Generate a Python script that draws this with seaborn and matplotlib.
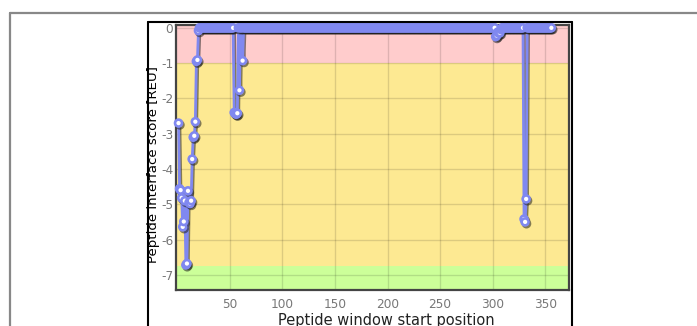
import numpy as np
import pandas as pd
import matplotlib
matplotlib.use("Agg")
import matplotlib.pyplot as plt
import matplotlib.patheffects as pe
from matplotlib.lines import Line2D
import seaborn as sns

# Peptide windows scanned along the sequence (start positions)
first_window = 1
last_window = 356

# Windows whose interface score differs from 0 REU
dip_positions = [1, 2, 3, 4, 5, 6, 7, 8, 9, 10, 11, 12, 13, 14, 15, 16, 17, 18, 19, 20,
                 54, 55, 56, 57, 59, 62,
                 303, 304, 305, 306, 307, 308,
                 330, 331, 332]
dip_scores = [-2.70, -4.56, -4.60, -4.82, -5.64, -5.49, -4.90, -6.72, -6.68, -4.62,
              -4.95, -4.98, -4.90, -3.72, -3.10, -3.06, -2.66, -0.95, -0.91, -0.08,
              -2.40, -2.43, -2.45, -2.42, -1.77, -0.93,
              -0.25, -0.22, -0.12, -0.15, -0.14, -0.05,
              -5.42, -5.50, -4.85]

# Score ranges shaded behind the curve
band_top = [0.2, -1.0, -6.75]
band_bottom = [-1.0, -6.75, -8.0]
band_colors = ["#ffcccc", "#fde992", "#ccff99"]

x_ticks = [50, 100, 150, 200, 250, 300, 350]
y_ticks = [0, -1, -2, -3, -4, -5, -6, -7]
y_tick_labels = ["0", "-1", "-2", "-3", "-4", "-5", "-6", "-7"]

line_color = "#8088f0"

scores = pd.Series(0.0, index=np.arange(first_window, last_window + 1))
scores.loc[dip_positions] = dip_scores
df = pd.DataFrame({"start": scores.index, "score": scores.values})

sns.set_style("white")
plt.rcParams["font.family"] = ["DejaVu Sans"]
plt.rcParams["axes.unicode_minus"] = False

W, H = 697, 326
fig = plt.figure(figsize=(W / 100, H / 100), dpi=100)
ax = fig.add_axes([176 / W, 1 - 290 / H, 393 / W, 265 / H])

for top, bottom, color in zip(band_top, band_bottom, band_colors):
    ax.axhspan(bottom, top, color=color, lw=0, zorder=0)

sns.lineplot(
    data=df, x="start", y="score", ax=ax,
    color=line_color, lw=2.0,
    marker="o", ms=5, mfc="white", mec=line_color, mew=1.9,
    clip_on=False, zorder=3,
    path_effects=[pe.SimpleLineShadow(offset=(1.0, -1.3), shadow_color="#202020", alpha=0.55),
                  pe.Normal()],
)

ax.set_xlim(-1.4, 372.8)
ax.set_ylim(-7.43, 0.08)
ax.set_xticks(x_ticks)
ax.set_xticklabels([str(t) for t in x_ticks])
ax.set_yticks(y_ticks)
ax.set_yticklabels(y_tick_labels)
ax.tick_params(length=0, labelsize=8.7, labelcolor="#777777")
ax.tick_params(axis="x", pad=6)
ax.tick_params(axis="y", pad=2)
ax.set_xlabel("")
ax.set_ylabel("")

ax.set_axisbelow(True)
ax.grid(True, color="black", alpha=0.13, lw=1)

for side in ["left", "bottom", "top", "right"]:
    ax.spines[side].set_visible(True)
    ax.spines[side].set_color("#444444")
    ax.spines[side].set_linewidth(1.6)

fig.text(154 / W, 1 - 165 / H, "Peptide interface score [REU]", rotation=90,
         ha="center", va="center", fontsize=9.6, color="black")
fig.text(386 / W, 1 - 320 / H, "Peptide window start position",
         ha="center", va="center", fontsize=10.5, color="#222222")

# panel frame around the chart
px0, px1, py0 = 147.5 / W, 571.5 / W, 1 - 22 / H
for xs, ys in [([px0, px0], [0, py0]), ([px0, px1], [py0, py0]), ([px1, px1], [0, py0])]:
    fig.add_artist(Line2D(xs, ys, transform=fig.transFigure, color="black", lw=1.5))

# outer page frame
ox, oy = 9.5 / W, 1 - 12.5 / H
for xs, ys in [([ox, ox], [0, oy]), ([ox, 1], [oy, oy])]:
    fig.add_artist(Line2D(xs, ys, transform=fig.transFigure, color="#888888", lw=1.6))

fig.savefig("out.png", dpi=100)
